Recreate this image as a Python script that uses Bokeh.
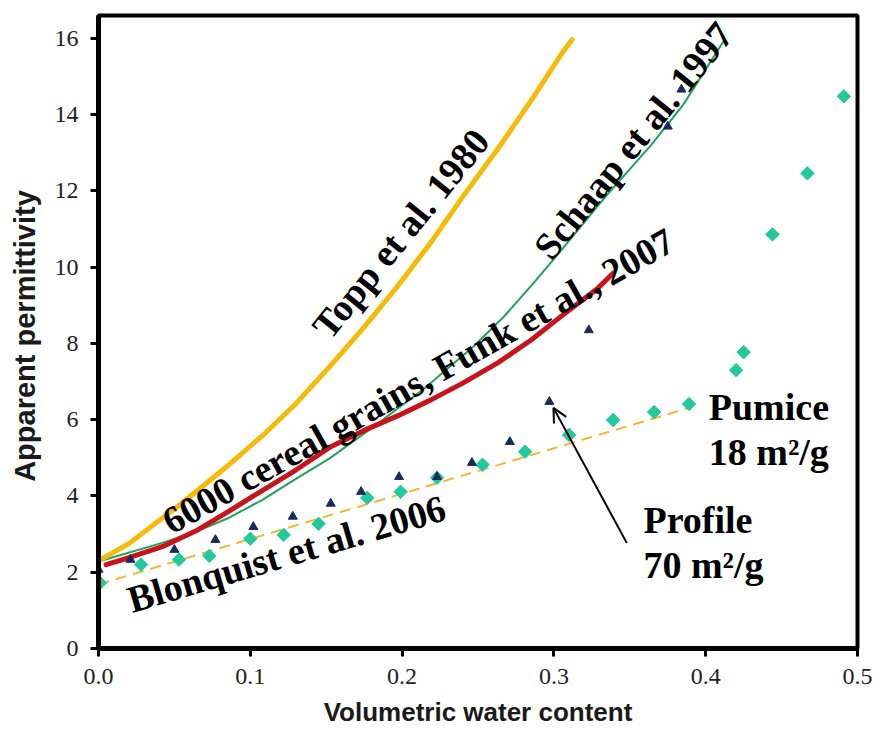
import math

from bokeh.plotting import figure
from bokeh.models import Range1d, FixedTicker, Arrow, OpenHead, Label
from bokeh.embed import file_html
from bokeh.resources import INLINE

# Axis ticks
x_ticks = [0.0, 0.1, 0.2, 0.3, 0.4, 0.5]
x_tick_labels = ["0.0", "0.1", "0.2", "0.3", "0.4", "0.5"]
y_ticks = [0, 2, 4, 6, 8, 10, 12, 14, 16]
y_tick_labels = ["0", "2", "4", "6", "8", "10", "12", "14", "16"]

# Topp et al. 1980 calibration curve
topp_theta = [0.0, 0.02, 0.053, 0.086, 0.108, 0.13, 0.152, 0.175, 0.197, 0.219,
              0.24, 0.263, 0.285, 0.306, 0.312]
topp_eps = [2.3, 2.75, 3.75, 4.82, 5.58, 6.42, 7.38, 8.43, 9.5, 10.65,
            11.85, 13.1, 14.37, 15.65, 15.97]

# Schaap et al. 1997 curve
schaap_theta = [0.0, 0.042, 0.064, 0.086, 0.108, 0.13, 0.152, 0.179, 0.214, 0.247,
                0.267, 0.287, 0.306, 0.334, 0.364, 0.385, 0.412]
schaap_eps = [2.28, 2.77, 3.06, 3.43, 3.9, 4.45, 4.98, 5.75, 6.8, 7.92,
              8.7, 9.6, 10.5, 11.85, 13.2, 14.25, 15.94]

# Funk et al. 2007, 6000 cereal grains
funk_theta = [0.005, 0.02, 0.042, 0.064, 0.086, 0.1, 0.13, 0.153, 0.175, 0.197,
              0.219, 0.24, 0.263, 0.285, 0.306, 0.329, 0.339]
funk_eps = [2.2, 2.38, 2.67, 3.08, 3.6, 3.95, 4.68, 5.29, 5.72, 6.1,
            6.52, 6.96, 7.49, 8.09, 8.75, 9.45, 9.84]

# Blonquist et al. 2006 linear model
blonq_theta = [0.0, 0.389]
blonq_eps = [1.68, 6.31]

# Measured: pumice (18 m2/g)
pumice_theta = [0.001, 0.028, 0.053, 0.073, 0.1, 0.122, 0.145, 0.177, 0.199, 0.223,
                0.253, 0.281, 0.31, 0.339, 0.366, 0.389, 0.42, 0.425, 0.444, 0.467, 0.491]
pumice_eps = [1.72, 2.2, 2.33, 2.43, 2.88, 2.98, 3.27, 3.95, 4.11, 4.48,
              4.82, 5.16, 5.6, 5.99, 6.2, 6.41, 7.3, 7.77, 10.86, 12.46, 14.48]

# Measured: Profile (70 m2/g)
profile_theta = [0.0, 0.021, 0.05, 0.077, 0.102, 0.128, 0.153, 0.173, 0.198, 0.223,
                 0.246, 0.271, 0.297, 0.323, 0.375, 0.384]
profile_eps = [2.07, 2.33, 2.59, 2.85, 3.19, 3.46, 3.8, 4.11, 4.5, 4.5,
               4.87, 5.42, 6.47, 8.35, 13.69, 14.66]

p = figure(width=873, height=729, output_backend="svg", toolbar_location=None,
           x_range=Range1d(0, 0.5), y_range=Range1d(0, 16.6),
           min_border_left=98, min_border_right=16, min_border_top=15,
           min_border_bottom=80)

p.background_fill_color = "white"
p.border_fill_color = "white"
p.outline_line_color = "black"
p.outline_line_width = 4
p.grid.visible = False

for ax in (p.xaxis[0], p.yaxis[0]):
    ax.axis_line_width = 5
    ax.axis_line_color = "black"
    ax.major_tick_line_width = 3
    ax.major_tick_out = 8
    ax.major_tick_in = 0
    ax.minor_tick_line_color = None
    ax.major_label_text_font = "Liberation Serif"
    ax.major_label_text_font_size = "24px"
    ax.major_label_text_color = "#222222"
    ax.major_label_standoff = 12
    ax.axis_label_text_font = "Liberation Sans"
    ax.axis_label_text_font_style = "bold"
    ax.axis_label_text_color = "#1a1a1a"

p.xaxis.ticker = FixedTicker(ticks=x_ticks)
p.xaxis.major_label_overrides = dict(zip(x_ticks, x_tick_labels))
p.yaxis.ticker = FixedTicker(ticks=y_ticks)
p.yaxis.major_label_overrides = dict(zip(y_ticks, y_tick_labels))

p.xaxis.axis_label = "Volumetric water content"
p.xaxis.axis_label_text_font_size = "26px"
p.xaxis.axis_label_standoff = 10
p.yaxis.axis_label = "Apparent  permittivity"
p.yaxis.axis_label_text_font_size = "29px"
p.yaxis.axis_label_standoff = 11

# Model curves
p.line(blonq_theta, blonq_eps, line_color="#f0b830", line_width=2, line_dash="11 7")
p.line(schaap_theta, schaap_eps, line_color="#1fa35c", line_width=2,
       line_join="round")
p.line(funk_theta, funk_eps, line_color="#c8141b", line_width=5,
       line_cap="round", line_join="round")
p.line(topp_theta, topp_eps, line_color="#f6bb06", line_width=5,
       line_cap="round", line_join="round")

# Measurements
p.scatter(pumice_theta, pumice_eps, marker="square", angle=math.pi / 4,
          size=9.5, color="#22c99c")
p.scatter(profile_theta, profile_eps, marker="triangle", size=9, color="#1b2a5c")

# Arrow pointing at the Profile series
p.add_layout(Arrow(end=OpenHead(size=14, line_width=2, line_color="black"),
                   x_start=0.348, y_start=2.77, x_end=0.2997, y_end=6.31,
                   line_width=2, line_color="black"))

serif = dict(text_font="Liberation Serif", text_font_style="bold",
             text_font_size="38px", text_color="black",
             text_baseline="alphabetic", text_align="left", angle_units="deg")

p.add_layout(Label(x=0.146, y=8.27, text="Topp et al. 1980", angle=51, **serif))
p.add_layout(Label(x=0.292, y=10.35, text="Schaap et al. 1997", angle=51, **serif))
p.add_layout(Label(x=0.0441, y=3.27, text="6000 cereal grains, Funk et al., 2007",
                   angle=29.5, **serif))
p.add_layout(Label(x=0.0198, y=1.26, text="Blonquist et al. 2006", angle=16.5, **serif))

p.add_layout(Label(x=0.402, y=6.33, text="Pumice", **serif))
p.add_layout(Label(x=0.402, y=5.16, text="18 m²/g", **serif))
p.add_layout(Label(x=0.359, y=3.38, text="Profile", **serif))
p.add_layout(Label(x=0.359, y=2.2, text="70 m²/g", **serif))

open("out.html", "w").write(file_html(p, INLINE))
